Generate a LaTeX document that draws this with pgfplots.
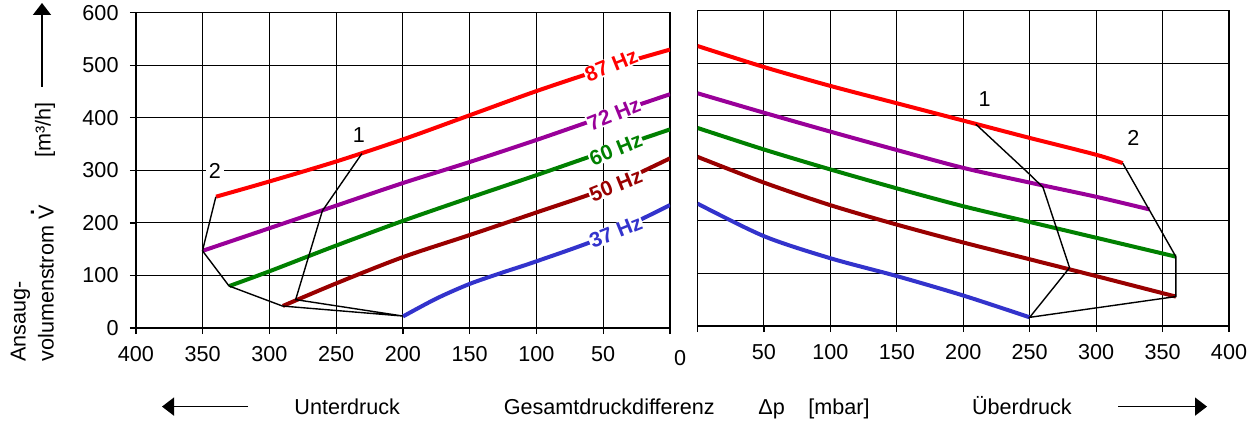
\documentclass[border=0pt]{standalone}
\usepackage{fontspec}
\setmainfont{Liberation Sans}
\usepackage{pgfplots}
\pgfplotsset{compat=1.18}
\usetikzlibrary{arrows.meta}

\definecolor{c87}{RGB}{255,0,0}
\definecolor{c72}{RGB}{153,0,153}
\definecolor{c60}{RGB}{0,128,0}
\definecolor{c50}{RGB}{153,0,0}
\definecolor{c37}{RGB}{51,51,204}

\newcommand{\lbl}{\fontsize{10.8pt}{13pt}\selectfont}
\newcommand{\Vdot}{\ooalign{V\cr\hidewidth\raisebox{0.9em}{\bfseries.}\hidewidth\cr}}

\pgfplotsset{
  panel/.style={
    scale only axis, width=267pt, height=157.6pt,
    xmin=0, xmax=400, ymin=0, ymax=600,
    xtick={0,50,...,400}, ytick={0,100,...,600},
    xticklabels={{},50,100,150,200,250,300,350,400},
    grid=major,
    major grid style={black, line width=0.5pt},
    axis line style={black, line width=0.6pt},
    tick style={black, line width=0.6pt},
    tick align=outside, major tick length=3pt,
    xtick pos=bottom, ytick pos=left,
    /pgf/number format/assume math mode=true,
    tick label style={font=\lbl},
    xticklabel style={yshift=-2.5pt},
    yticklabel style={xshift=-2.2pt},
  },
  curve/.style={line width=2pt, smooth},
  frame/.style={black, line width=0.7pt},
}
\tikzset{
  hz/.style={rotate=22, fill=white, inner sep=0.4pt, font=\bfseries\fontsize{10.5pt}{12pt}\selectfont},
}

\begin{document}
\begin{tikzpicture}
\useasboundingbox (0,0) rectangle (628pt,211.5pt);

% Unterdruck (linke Seite, x-Achse gespiegelt)
\begin{axis}[panel, at={(68pt,47.5pt)}, anchor=south west, x dir=reverse]
  \addplot[curve, c87] coordinates {(340,250) (300,279) (250,317) (200,359) (150,405) (100,451) (50,493) (0,530)};
  \addplot[curve, c72] coordinates {(350,147) (300,190) (250,233) (200,276) (150,316) (100,358) (50,402) (0,445)};
  \addplot[curve, c60] coordinates {(330,80) (300,108) (250,157) (200,204) (150,248) (100,291) (50,335) (0,378)};
  \addplot[curve, c50] coordinates {(290,42) (250,85) (200,135) (150,177) (100,220) (50,264) (0,323)};
  \addplot[curve, c37] coordinates {(200,22) (175,56) (150,84) (125,106) (100,127) (50,173) (0,234)};
  \addplot[frame] coordinates {(230.8,332) (260.4,223) (280.4,54) (200.2,22.8) (290.3,41.8) (330.3,80) (350.2,147) (340.2,249.7)};
  \node[hz, text=c87] at (axis cs:44,500) {87 Hz};
  \node[hz, text=c72] at (axis cs:42,407) {72 Hz};
  \node[hz, text=c60] at (axis cs:40.6,340) {60 Hz};
  \node[hz, text=c50] at (axis cs:40.6,272) {50 Hz};
  \node[hz, text=c37] at (axis cs:40.6,183) {37 Hz};
  \node[font=\lbl] at (axis cs:233,367) {1};
  \node[font=\lbl, fill=white, inner sep=1.5pt] at (axis cs:341,298) {2};
\end{axis}

% Ueberdruck (rechte Seite)
\begin{axis}[panel, at={(348.75pt,48.5pt)}, anchor=south west, width=265.75pt,
  yticklabels={}, ytick style={draw=none}]
  \addplot[curve, c87] coordinates {(0,533) (50,493) (100,457) (150,424) (200,391) (250,358) (300,326) (320,310)};
  \addplot[curve, c72] coordinates {(0,443) (50,406) (100,370) (150,335) (200,301) (250,273) (300,246) (340,222)};
  \addplot[curve, c60] coordinates {(0,377) (50,336) (100,298) (150,262) (200,228) (250,198) (300,168) (360,132)};
  \addplot[curve, c50] coordinates {(0,322) (50,273) (100,230) (150,193) (200,159) (250,127) (300,95) (360,56)};
  \addplot[curve, c37] coordinates {(0,233) (50,171) (100,129) (150,95) (200,58) (250,16.5)};
  \addplot[frame] coordinates {(209.5,384) (249,291) (260,264) (280,111) (250,16.5) (360,56) (360,132) (320,310)};
  \node[font=\lbl] at (axis cs:216,432) {1};
  \node[font=\lbl] at (axis cs:328,358) {2};
\end{axis}

% Null zwischen den Teilbildern
\node[font=\lbl] at (340pt,32.5pt) {0};

% y-Achsenbeschriftung
\node[font=\lbl, rotate=90, anchor=base west, inner sep=0pt] at (12.75pt,30.5pt) {Ansaug-};
\node[font=\lbl, rotate=90, anchor=base west, inner sep=0pt] at (26.8pt,30.5pt) {volumenstrom \Vdot};
\node[font=\lbl, rotate=90] at (22.5pt,146.5pt) {[m³/h]};
\draw[line width=0.8pt, -{Triangle[width=9pt,length=6pt]}] (21pt,168pt) -- (21pt,210pt);

% x-Achsenbeschriftung
\draw[line width=0.8pt, -{Triangle[width=9pt,length=6pt]}] (124pt,8.2pt) -- (81pt,8.2pt);
\node[font=\lbl, anchor=base west, inner sep=0pt] at (147pt,4.3pt) {Unterdruck};
\node[font=\lbl, anchor=base west, inner sep=0pt] at (251.7pt,4.3pt) {Gesamtdruckdifferenz};
\node[font=\lbl, anchor=base west, inner sep=0pt] at (379pt,4.3pt) {Δp};
\node[font=\lbl, anchor=base west, inner sep=0pt] at (404pt,4.3pt) {[mbar]};
\node[font=\lbl, anchor=base west, inner sep=0pt] at (485.8pt,4.3pt) {Überdruck};
\draw[line width=0.8pt, -{Triangle[width=9pt,length=6pt]}] (559pt,8.2pt) -- (603.5pt,8.2pt);
\end{tikzpicture}
\end{document}
